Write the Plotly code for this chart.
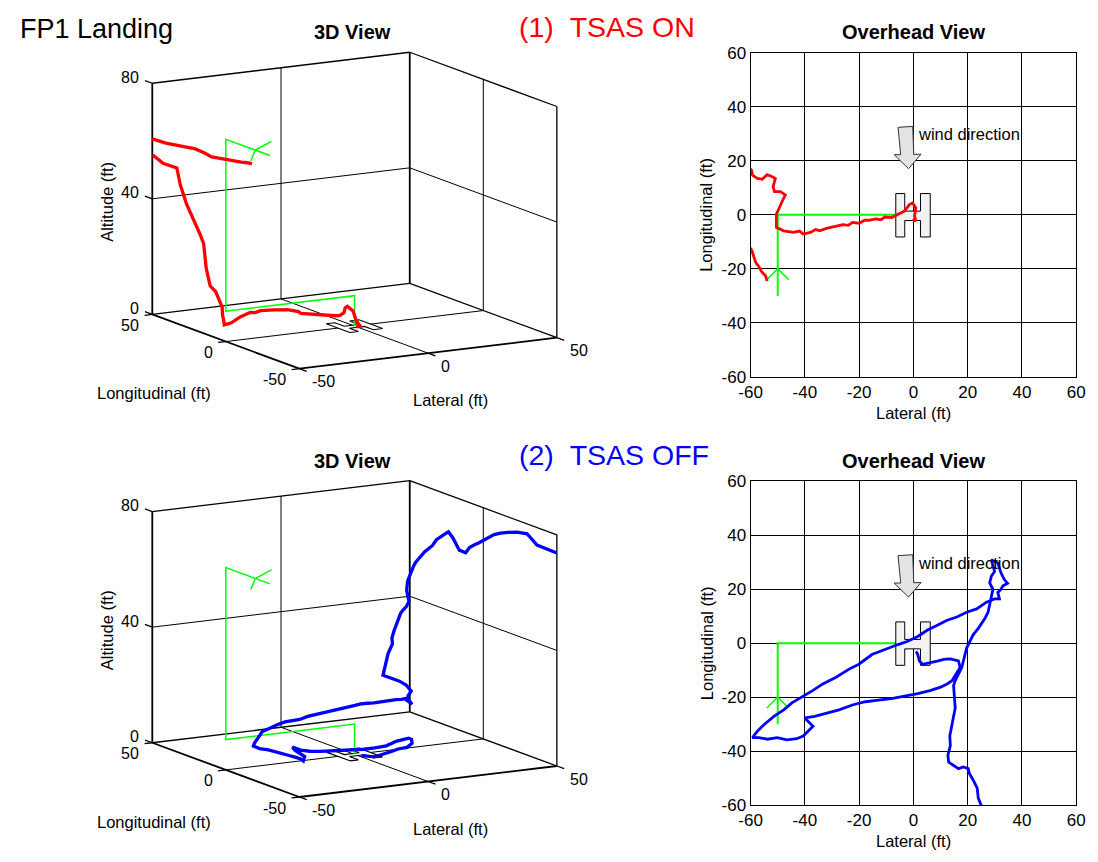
import math
import plotly.graph_objects as go

FONT = "Liberation Sans, Arial, Helvetica, sans-serif"
W_PX, H_PX = 1098, 862

# ---------------- axis limits / ticks ----------------
LAT_LIM_3D = [-50, 50]
LONG_LIM_3D = [-50, 50]
ALT_LIM_3D = [0, 80]
LAT_TICKS_3D = [-50, 0, 50]
LONG_TICKS_3D = [-50, 0, 50]
ALT_TICKS_3D = [0, 40, 80]
OVH_LIM = [-60, 60]
OVH_TICKS = [-60, -40, -20, 0, 20, 40, 60]

# ---------------- planned approach path (green) ----------------
REF_LAT = [-50, -50, -50, 0, 0]
REF_LONG = [-30, 0, 0, 0, 0]
REF_ALT = [70, 70, 10.5, 10.5, 0]
REF_HEAD_LAT = [-54, -50, -46]
REF_HEAD_LONG = [-24, -20, -24]
REF_HEAD_ALT = [67.4, 70, 73.3]

# ---------------- landing pad "H" and wind arrow ----------------
PAD_LAT = [-6.5, -3.2, -3.2, 2.6, 2.6, 6.2, 6.2, 2.6, 2.6, -3.2, -3.2, -6.5, -6.5]
PAD_LONG = [-8.2, -8.2, -2.1, -2.1, -8.2, -8.2, 7.9, 7.9, 1.4, 1.4, 7.9, 7.9, -8.2]
WIND_LAT = [-5.66, -0.24, 0.12, 2.8, -1.8, -7.1, -4.7, -5.66]
WIND_LONG = [32.45, 32.8, 22.4, 22.5, 17.1, 22.3, 22.3, 32.45]

# ---------------- (1) TSAS ON : red track, two pieces ----------------
ON_B_LAT = [-53.9, -54.5, -56.0, -56.9, -58.1, -58.7, -59.6, -61.5, -63.0, -65.0, -67.0, -71.0, -74.0]
ON_B_LONG = [-24.6, -22.6, -21.0, -19.2, -17.7, -15.5, -13.1, -10.5, -8.0, -5.0, -2.0, 4.0, 8.0]
ON_B_ALT = [66.5, 66.6, 66.7, 66.8, 66.8, 66.8, 66.8, 67.1, 68.2, 69.3, 69.6, 70.2, 71.2]

ON_A_LAT = [-65.5, -63.0, -59.6, -59.3, -57.5, -55.7, -53.9, -52.0, -50.9, -51.7, -51.2, -49.0,
            -47.2, -48.1, -49.6, -50.5, -50.5, -47.8, -44.2, -42.0, -40.6, -38.0, -36.0, -34.6,
            -32.0, -30.0, -28.6, -26.0, -24.0, -22.5, -20.0, -18.0, -16.5, -14.0, -12.0, -10.5,
            -8.0, -5.7, -3.3, -1.5, -0.3, 0.9, 0.4, 0.9, -0.3]
ON_A_LONG = [22.5, 20.0, 16.5, 14.7, 13.5, 13.2, 14.9, 14.1, 13.5, 10.4, 8.6, 8.6,
             7.4, 5.6, 2.0, 0.2, -4.6, -5.9, -6.5, -6.0, -7.1, -6.5, -5.4, -5.9,
             -5.0, -4.6, -4.4, -3.6, -3.9, -2.8, -3.1, -2.0, -2.0, -1.5, -1.8, -0.8,
             -1.0, 0.2, 1.4, 3.8, 4.4, 2.6, -0.4, -2.3, -1.6]
ON_A_ALT = [62.0, 59.3, 58.0, 52.5, 45.7, 41.5, 40.0, 34.8, 31.4, 23.7, 17.8, 15.5,
            10.2, 8.2, 6.4, 5.8, 7.4, 9.4, 10.7, 10.3, 11.0, 10.8, 10.5, 10.4,
            10.0, 9.8, 9.6, 8.8, 8.3, 7.3, 6.9, 6.4, 6.1, 5.6, 5.3, 4.9,
            4.6, 4.2, 4.7, 5.7, 6.0, 4.6, 1.9, 0.3, 0.0]

# ---------------- (2) TSAS OFF : blue track ----------------
OFF_LAT = [30.0, 29.0, 28.0, 27.0, 26.0, 25.1, 23.9, 23.5, 22.0, 20.6, 20.2, 18.4, 16.6, 14.8,
           13.0, 12.7, 13.6, 13.4, 14.2, 14.8, 15.4, 15.1, 14.8, 15.4, 17.8, 19.6, 22.0, 23.9,
           26.3, 27.5, 28.1, 28.7, 29.3, 28.1, 28.7, 29.9, 29.3, 28.7, 31.1, 32.3, 33.5, 34.7,
           32.9, 32.3, 31.1, 31.7, 29.9, 26.9, 23.3, 19.6, 16.0, 12.4, 8.8, 5.2, 1.6, -2.1,
           -5.7, -10.5, -15.3, -20.1, -23.7, -28.5, -33.4, -37.0, -41.2, -44.8, -47.8, -51.4,
           -55.1, -57.5, -59.3, -56.9, -53.8, -50.2, -46.6, -43.0, -40.6, -38.2, -37.0, -39.4,
           -40.0, -36.4, -32.2, -27.4, -22.5, -17.7, -12.9, -8.1, -3.3, 1.6, 6.4, 10.0, 12.4,
           14.2, 17.2, 16.6, 13.6, 11.2, 8.8, 6.4, 3.4, 2.2, 1.6, 1.0]
OFF_LONG = [-85.0, -80.0, -75.0, -70.0, -65.0, -60.4, -57.4, -53.7, -50.7, -48.3, -46.5, -45.9,
            -46.5, -45.3, -44.1, -41.6, -38.0, -34.4, -30.8, -27.1, -24.1, -21.1, -15.7, -13.9,
            -9.0, -1.8, 3.1, 5.5, 9.1, 11.5, 14.0, 17.6, 20.0, 22.4, 24.8, 26.6, 28.5, 30.9,
            29.7, 26.0, 23.6, 22.2, 21.2, 20.0, 18.8, 16.4, 16.4, 15.2, 12.7, 11.5, 9.7, 8.5,
            6.7, 4.9, 2.5, 0.7, -0.5, -2.4, -4.2, -7.8, -9.6, -12.6, -15.1, -17.5, -19.9, -22.1,
            -24.7, -27.1, -30.2, -32.6, -35.0, -35.0, -35.6, -35.0, -35.8, -35.4, -34.4, -32.0,
            -30.8, -28.4, -27.7, -27.1, -25.9, -24.7, -22.9, -21.7, -21.1, -20.5, -19.6, -18.7,
            -17.5, -16.3, -15.1, -13.9, -9.0, -6.6, -5.8, -6.0, -6.6, -7.2, -7.8, -6.6, -4.2, -3.0]
OFF_ALT = [82.4, 82.9, 83.5, 86.6, 86.3, 85.5, 84.8, 83.6, 81.5, 80.0, 79.2, 78.2, 76.7, 77.6,
           81.8, 83.5, 82.1, 80.0, 78.6, 75.8, 74.4, 72.4, 67.9, 66.9, 65.0, 58.3, 54.0, 50.7,
           48.7, 47.5, 45.5, 43.4, 41.9, 35.5, 32.6, 30.0, 26.4, 18.5, 17.5, 17.0, 16.0, 14.0,
           12.8, 12.0, 11.8, 10.9, 13.2, 13.3, 14.1, 14.3, 14.6, 14.9, 15.5, 16.0, 16.3, 16.5,
           16.5, 16.7, 16.8, 17.5, 17.5, 17.5, 18.0, 18.5, 18.5, 18.4, 18.7, 18.4, 16.8, 16.2,
           15.8, 14.7, 14.0, 12.6, 11.5, 10.2, 9.2, 7.8, 9.0, 11.0, 12.0, 10.5, 9.4, 8.6, 7.9,
           7.6, 7.1, 6.5, 6.3, 6.3, 7.2, 7.4, 7.1, 6.3, 3.7, 1.9, 1.5, 1.0, 0.8, 0.5, 0.3, 0.3,
           0.2, 0.0]

# ---------------- styles / view constants ----------------
RED, BLUE, GREEN = "#ff0000", "#0000ff", "#00ff00"
VIEW_AZ, VIEW_EL = -29.74, 12.2      # MATLAB-style view(az, el)
PX_PER_UNIT = 3.023
TICK_LEN_LONG = 5
TICK_LEN_LAT = 3
TICK_FONT_3D = 16
PANELS = {"top": dict(cx=349.25, cy=206.0, frame=("x3", "y3"), data=("x5", "y5"),
                      ovh=("x", "y"), ovh_dom=[45, 376]),
          "bottom": dict(cx=349.25, cy=644.0, frame=("x4", "y4"), data=("x6", "y6"),
                         ovh=("x2", "y2"), ovh_dom=[483, 814])}
OVH_X_PX = [753, 1085]

_CA, _SA = math.cos(math.radians(VIEW_AZ)), math.sin(math.radians(VIEW_AZ))
_CE, _SE = math.cos(math.radians(VIEW_EL)), math.sin(math.radians(VIEW_EL))


def project(lat, lon, alt):
    us, vs = [], []
    for a, b, c in zip(lat, lon, alt):
        if a is None:
            us.append(None)
            vs.append(None)
            continue
        us.append(_CA * a + _SA * b)
        vs.append(-_SE * _SA * a + _SE * _CA * b + _CE * c)
    return us, vs


fig = go.Figure()
layout_axes = {}
annotations = []


def add_seg(buf, p, q):
    for i in range(3):
        buf[i].extend([p[i], q[i], None])


def line_trace(lat, lon, alt, ax, color, width, fill=None):
    u, v = project(lat, lon, alt)
    kw = dict(fill="toself", fillcolor=fill) if fill else {}
    fig.add_trace(go.Scatter(x=u, y=v, mode="lines", line=dict(color=color, width=width),
                             hoverinfo="skip", showlegend=False, xaxis=ax[0], yaxis=ax[1],
                             connectgaps=False, **kw))


def setup_3d_axes(p):
    la0, la1 = LAT_LIM_3D
    lo0, lo1 = LONG_LIM_3D
    z0, z1 = ALT_LIM_3D
    (uc,), (vc,) = project([(la0 + la1) / 2], [(lo0 + lo1) / 2], [(z0 + z1) / 2])
    corners = [(a, b, c) for a in (la0, la1) for b in (lo0, lo1) for c in (z0, z1)]
    cu, cv = project(*zip(*corners))
    px = [p["cx"] + (u - uc) * PX_PER_UNIT for u in cu]
    py = [p["cy"] - (v - vc) * PX_PER_UNIT for v in cv]
    boxes = {"frame": (40, 620, p["cy"] - 200, p["cy"] + 200),
             "data": (min(px) - 1, max(px) + 1, min(py) - 1, max(py) + 1)}
    for key, (x0, x1, y0, y1) in boxes.items():
        xa, ya = p[key]
        xr = [uc - (p["cx"] - x0) / PX_PER_UNIT, uc + (x1 - p["cx"]) / PX_PER_UNIT]
        yr = [vc - (y1 - p["cy"]) / PX_PER_UNIT, vc + (p["cy"] - y0) / PX_PER_UNIT]
        layout_axes[xa.replace("x", "xaxis")] = dict(
            domain=[x0 / W_PX, x1 / W_PX], range=xr, anchor=ya, visible=False, fixedrange=True)
        layout_axes[ya.replace("y", "yaxis")] = dict(
            domain=[1 - y1 / H_PX, 1 - y0 / H_PX], range=yr, anchor=xa, visible=False,
            fixedrange=True)


def box_and_ticks(ax):
    la0, la1 = LAT_LIM_3D
    lo0, lo1 = LONG_LIM_3D
    z0, z1 = ALT_LIM_3D
    axes, frame, grid, ticks = [[], [], []], [[], [], []], [[], [], []], [[], [], []]
    add_seg(axes, (la0, lo1, z0), (la0, lo1, z1))
    add_seg(axes, (la0, lo0, z0), (la0, lo1, z0))
    add_seg(axes, (la0, lo0, z0), (la1, lo0, z0))
    add_seg(axes, (la1, lo1, z0), (la1, lo1, z1))
    add_seg(frame, (la0, lo1, z1), (la1, lo1, z1))
    add_seg(frame, (la1, lo1, z1), (la1, lo0, z1))
    add_seg(frame, (la0, lo1, z0), (la1, lo1, z0))
    add_seg(frame, (la1, lo1, z0), (la1, lo0, z0))
    add_seg(frame, (la1, lo0, z0), (la1, lo0, z1))
    for t in LAT_TICKS_3D:
        if la0 < t < la1:
            add_seg(grid, (t, lo1, z0), (t, lo1, z1))
            add_seg(grid, (t, lo0, z0), (t, lo1, z0))
    for t in LONG_TICKS_3D:
        if lo0 < t < lo1:
            add_seg(grid, (la1, t, z0), (la1, t, z1))
            add_seg(grid, (la0, t, z0), (la1, t, z0))
    for t in ALT_TICKS_3D:
        if z0 < t < z1:
            add_seg(grid, (la0, lo1, t), (la1, lo1, t))
            add_seg(grid, (la1, lo0, t), (la1, lo1, t))
    for t in ALT_TICKS_3D:
        add_seg(ticks, (la0, lo1, t), (la0, lo1 + TICK_LEN_LONG, t))
    for t in LONG_TICKS_3D:
        add_seg(ticks, (la0, t, z0), (la0 - TICK_LEN_LAT, t, z0))
    for t in LAT_TICKS_3D:
        add_seg(ticks, (t, lo0, z0), (t, lo0 - TICK_LEN_LONG, z0))
    for buf, w in ((grid, 1.0), (frame, 1.3), (axes, 1.8), (ticks, 1.3)):
        line_trace(buf[0], buf[1], buf[2], ax, "black", w)
    # tick labels
    f = dict(family=FONT, size=TICK_FONT_3D, color="black")
    specs = ([(la0, lo1, t, str(t), "right", -11, 6) for t in ALT_TICKS_3D] +
             [(la0, t, z0, str(t), "right", -11, -11) for t in LONG_TICKS_3D] +
             [(t, lo0, z0, str(t), "left", 11, -13) for t in LAT_TICKS_3D])
    for a, b, c, label, anc, xs, ys in specs:
        (u,), (v,) = project([a], [b], [c])
        annotations.append(dict(x=u, y=v, xref=ax[0], yref=ax[1], text=label, showarrow=False,
                                xanchor=anc, yanchor="middle", xshift=xs, yshift=ys, font=f))


def panel_3d(p, tracks, color):
    setup_3d_axes(p)
    box_and_ticks(p["frame"])
    line_trace(PAD_LAT, PAD_LONG, [ALT_LIM_3D[0]] * len(PAD_LAT), p["frame"], "black", 1.1,
               fill="white")
    line_trace(REF_LAT, REF_LONG, REF_ALT, p["data"], GREEN, 1.5)
    line_trace(REF_HEAD_LAT, REF_HEAD_LONG, REF_HEAD_ALT, p["data"], GREEN, 1.5)
    for la, lo, al in tracks:
        line_trace(la, lo, al, p["data"], color, 3.3)


def panel_overhead(p, tracks, color):
    xa, ya = p["ovh"]
    fig.add_trace(go.Scatter(x=REF_LAT, y=REF_LONG, mode="lines", line=dict(color=GREEN, width=2),
                             hoverinfo="skip", showlegend=False, xaxis=xa, yaxis=ya))
    fig.add_trace(go.Scatter(x=REF_HEAD_LAT, y=REF_HEAD_LONG, mode="lines",
                             line=dict(color=GREEN, width=1.5), hoverinfo="skip",
                             showlegend=False, xaxis=xa, yaxis=ya))
    fig.add_trace(go.Scatter(x=PAD_LAT, y=PAD_LONG, mode="lines", fill="toself",
                             fillcolor="#f2f2f2", line=dict(color="black", width=1),
                             hoverinfo="skip", showlegend=False, xaxis=xa, yaxis=ya))
    for la, lo, _ in tracks:
        fig.add_trace(go.Scatter(x=la, y=lo, mode="lines", line=dict(color=color, width=2.8),
                                 hoverinfo="skip", showlegend=False, xaxis=xa, yaxis=ya))
    fig.add_trace(go.Scatter(x=WIND_LAT, y=WIND_LONG, mode="lines", fill="toself",
                             fillcolor="#e3e3e3", line=dict(color="#333333", width=1),
                             hoverinfo="skip", showlegend=False, xaxis=xa, yaxis=ya))
    common = dict(range=OVH_LIM, tickvals=OVH_TICKS, ticktext=[str(t) for t in OVH_TICKS],
                  showgrid=True, gridcolor="black", gridwidth=1, zeroline=False,
                  showline=True, linecolor="black", linewidth=1, mirror=True, ticks="",
                  tickfont=dict(family=FONT, size=17, color="black"), fixedrange=True)
    y0, y1 = p["ovh_dom"]
    layout_axes[xa.replace("x", "xaxis")] = dict(domain=[OVH_X_PX[0] / W_PX, OVH_X_PX[1] / W_PX],
                                                 anchor=ya, **common)
    layout_axes[ya.replace("y", "yaxis")] = dict(domain=[1 - y1 / H_PX, 1 - y0 / H_PX],
                                                 anchor=xa, **common)
    annotations.append(dict(x=1.0, y=29.8, xref=xa, yref=ya, text="wind direction",
                            showarrow=False, xanchor="left", yanchor="middle",
                            font=dict(family=FONT, size=16.5, color="black")))


ON_TRACKS = [(ON_B_LAT, ON_B_LONG, ON_B_ALT), (ON_A_LAT, ON_A_LONG, ON_A_ALT)]
OFF_TRACKS = [(OFF_LAT, OFF_LONG, OFF_ALT)]

panel_3d(PANELS["top"], ON_TRACKS, RED)
panel_3d(PANELS["bottom"], OFF_TRACKS, BLUE)
panel_overhead(PANELS["top"], ON_TRACKS, RED)
panel_overhead(PANELS["bottom"], OFF_TRACKS, BLUE)


def txt(x, y, text, size=16, color="black", bold=False, angle=0, xanchor="center"):
    return dict(x=x / W_PX, y=1 - y / H_PX, xref="paper", yref="paper", text=text,
                showarrow=False, xanchor=xanchor, yanchor="middle", textangle=angle,
                font=dict(family=FONT, size=size, color=color,
                          weight="bold" if bold else "normal"))


annotations += [
    txt(6, 20, "FP1 Landing", size=27, xanchor="left"),
    txt(515, 18, "(1)\u00a0\u00a0TSAS ON", size=28.5, color=RED, xanchor="left"),
    txt(515, 456, "(2)\u00a0\u00a0TSAS OFF", size=28.5, color=BLUE, xanchor="left"),
]
for dy in (0, 438):
    annotations += [
        txt(347, 24 + dy, "3D View", size=20, bold=True),
        txt(919, 24 + dy, "Overhead View", size=20, bold=True),
        txt(97, 197 + dy, "Altitude (ft)", size=16.5, angle=-90),
        txt(145, 393 + dy, "Longitudinal (ft)", size=16.5),
        txt(447, 400 + dy, "Lateral (ft)", size=16.5),
        txt(919, 413 + dy, "Lateral (ft)", size=16.5),
        txt(708, 210 + dy, "Longitudinal (ft)", size=16.5, angle=-90),
    ]

fig.update_layout(
    width=W_PX, height=H_PX, margin=dict(l=0, r=0, t=0, b=0),
    paper_bgcolor="white", plot_bgcolor="rgba(0,0,0,0)", showlegend=False,
    font=dict(family=FONT, color="black"),
    annotations=annotations,
    **layout_axes,
)

fig.write_html("out.html", config={"displayModeBar": False, "staticPlot": True})
